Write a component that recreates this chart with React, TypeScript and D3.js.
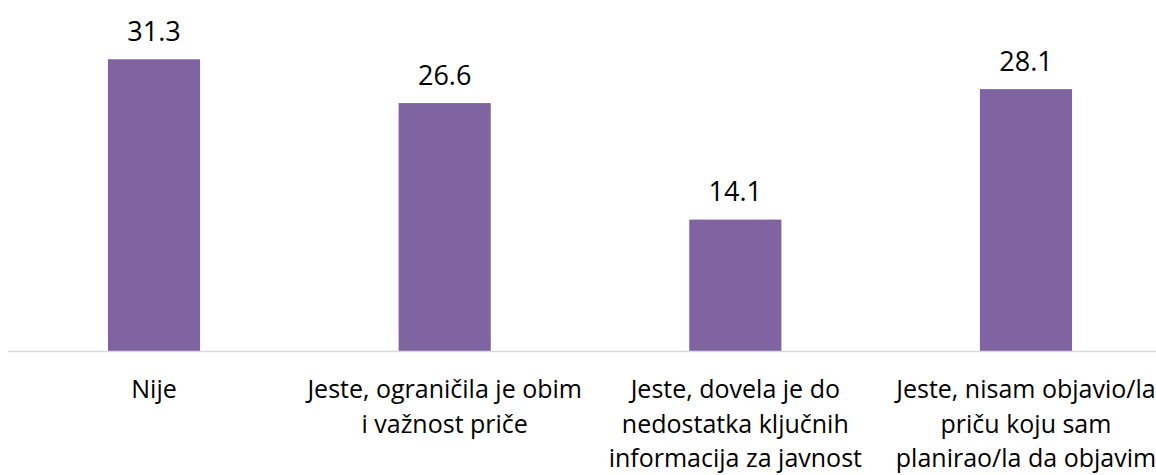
import React from "react";
import * as d3 from "d3";

const categories: string[][] = [
  ["Nije"],
  ["Jeste, ograničila je obim", "i važnost priče"],
  ["Jeste, dovela je do", "nedostatka ključnih", "informacija za javnost"],
  ["Jeste, nisam objavio/la", "priču koju sam", "planirao/la da objavim"],
];
const values: number[] = [31.3, 26.6, 14.1, 28.1];
const valueLabels: string[] = ["31.3", "26.6", "14.1", "28.1"];

const W = 1156;
const H = 475;
const baseY = 351;
const pxPerUnit = 9.32;
const FONT = "'Open Sans', 'Noto Sans', sans-serif";

export default function App() {
  const ids = categories.map((_, i) => String(i));
  const x = d3.scaleBand<string>().domain(ids).range([8.7, 1171.3]).paddingInner(0.683).paddingOuter(0.3415);
  const y = d3.scaleLinear().domain([0, 35]).range([baseY, baseY - 35 * pxPerUnit]);
  const bw = x.bandwidth();
  return (
    <svg width={W} height={H} style={{ position: "absolute", left: 0, top: 0, background: "#fff" }}>
      {values.map((v, i) => (
        <rect key={"b" + i} x={x(ids[i])!} y={y(v)} width={bw} height={y(0) - y(v)} fill="#8064A2" />
      ))}
      <line x1={8} x2={W} y1={baseY + 0.5} y2={baseY + 0.5} stroke="#d9d9d9" strokeWidth={1.5} />
      {values.map((v, i) => (
        <text key={"v" + i} x={x(ids[i])! + bw / 2} y={y(v) - 18.5} textAnchor="middle" fontFamily={FONT} fontSize={27} fill="#000">
          {valueLabels[i]}
        </text>
      ))}
      {categories.map((lines, i) => (
        <text key={"c" + i} textAnchor="middle" fontFamily={FONT} fontSize={25} fill="#000">
          {lines.map((l, j) => (
            <tspan key={j} x={x(ids[i])! + bw / 2} y={398 + j * 34.5}>
              {l}
            </tspan>
          ))}
        </text>
      ))}
    </svg>
  );
}
